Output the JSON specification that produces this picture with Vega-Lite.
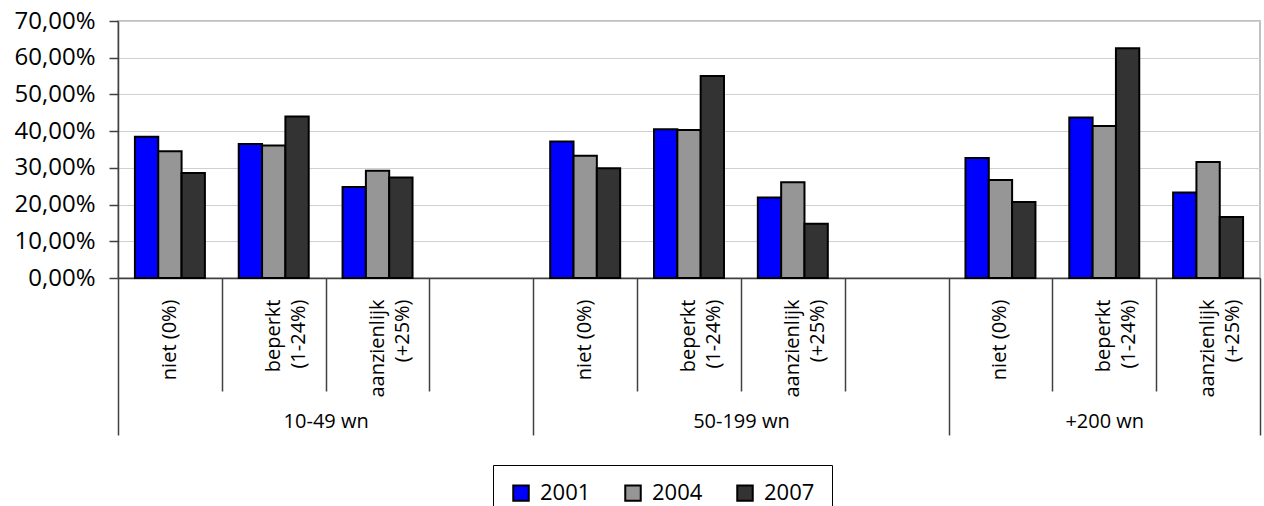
{
  "$schema": "https://vega.github.io/schema/vega-lite/v6.json",
  "width": 1142,
  "height": 257,
  "autosize": {"type": "none"},
  "padding": {"left": 118, "top": 21, "right": 4, "bottom": 228},
  "background": "white",
  "config": {
    "font": "Open Sans",
    "view": {"stroke": "#c0c0c0", "strokeWidth": 2},
    "axis": {"labelFont": "Open Sans", "labelColor": "#000"},
    "legend": {"labelFont": "Open Sans"}
  },
  "datasets": {
    "bars": [
      {"cat": "10-49 wn|niet (0%)", "jaar": "2001", "pct": 38.5},
      {"cat": "10-49 wn|niet (0%)", "jaar": "2004", "pct": 34.5},
      {"cat": "10-49 wn|niet (0%)", "jaar": "2007", "pct": 28.6},
      {"cat": "10-49 wn|beperkt|(1-24%)", "jaar": "2001", "pct": 36.5},
      {"cat": "10-49 wn|beperkt|(1-24%)", "jaar": "2004", "pct": 36.1},
      {"cat": "10-49 wn|beperkt|(1-24%)", "jaar": "2007", "pct": 44.0},
      {"cat": "10-49 wn|aanzienlijk|(+25%)", "jaar": "2001", "pct": 24.8},
      {"cat": "10-49 wn|aanzienlijk|(+25%)", "jaar": "2004", "pct": 29.2},
      {"cat": "10-49 wn|aanzienlijk|(+25%)", "jaar": "2007", "pct": 27.4},
      {"cat": "50-199 wn|niet (0%)", "jaar": "2001", "pct": 37.2},
      {"cat": "50-199 wn|niet (0%)", "jaar": "2004", "pct": 33.3},
      {"cat": "50-199 wn|niet (0%)", "jaar": "2007", "pct": 29.9},
      {"cat": "50-199 wn|beperkt|(1-24%)", "jaar": "2001", "pct": 40.5},
      {"cat": "50-199 wn|beperkt|(1-24%)", "jaar": "2004", "pct": 40.3},
      {"cat": "50-199 wn|beperkt|(1-24%)", "jaar": "2007", "pct": 55.0},
      {"cat": "50-199 wn|aanzienlijk|(+25%)", "jaar": "2001", "pct": 21.9},
      {"cat": "50-199 wn|aanzienlijk|(+25%)", "jaar": "2004", "pct": 26.1},
      {"cat": "50-199 wn|aanzienlijk|(+25%)", "jaar": "2007", "pct": 14.8},
      {"cat": "+200 wn|niet (0%)", "jaar": "2001", "pct": 32.7},
      {"cat": "+200 wn|niet (0%)", "jaar": "2004", "pct": 26.7},
      {"cat": "+200 wn|niet (0%)", "jaar": "2007", "pct": 20.7},
      {"cat": "+200 wn|beperkt|(1-24%)", "jaar": "2001", "pct": 43.7},
      {"cat": "+200 wn|beperkt|(1-24%)", "jaar": "2004", "pct": 41.4},
      {"cat": "+200 wn|beperkt|(1-24%)", "jaar": "2007", "pct": 62.6},
      {"cat": "+200 wn|aanzienlijk|(+25%)", "jaar": "2001", "pct": 23.3},
      {"cat": "+200 wn|aanzienlijk|(+25%)", "jaar": "2004", "pct": 31.6},
      {"cat": "+200 wn|aanzienlijk|(+25%)", "jaar": "2007", "pct": 16.6}
    ],
    "slots": [
      {"pos": 0}, {"pos": 1}, {"pos": 2}, {"pos": 3}, {"pos": 4}, {"pos": 5},
      {"pos": 6}, {"pos": 7}, {"pos": 8}, {"pos": 9}, {"pos": 10}, {"pos": 11}
    ]
  },
  "layer": [
    {
      "data": {"name": "bars"},
      "mark": {"type": "bar", "stroke": "#000", "strokeWidth": 2},
      "encoding": {
        "x": {
          "field": "cat",
          "type": "nominal",
          "sort": null,
          "scale": {
            "domain": [
              "10-49 wn|niet (0%)", "10-49 wn|beperkt|(1-24%)", "10-49 wn|aanzienlijk|(+25%)", "10-49 wn|",
              "50-199 wn|niet (0%)", "50-199 wn|beperkt|(1-24%)", "50-199 wn|aanzienlijk|(+25%)", "50-199 wn|",
              "+200 wn|niet (0%)", "+200 wn|beperkt|(1-24%)", "+200 wn|aanzienlijk|(+25%)"
            ],
            "paddingInner": 0.326,
            "paddingOuter": 0.163
          },
          "axis": {
            "orient": "bottom",
            "title": null,
            "ticks": false,
            "tickSize": 0,
            "domain": true,
            "domainColor": "#404040",
            "domainWidth": 1.5,
            "labelExpr": "slice(split(datum.value, '|'), 1)",
            "labelAngle": 270,
            "labelAlign": "right",
            "labelBaseline": "middle",
            "labelPadding": 21,
            "labelFontSize": 20,
            "labelLineHeight": 25,
            "labelOverlap": false,
            "labelColor": "#000"
          }
        },
        "xOffset": {"field": "jaar", "type": "nominal", "sort": ["2001", "2004", "2007"]},
        "y": {
          "field": "pct",
          "type": "quantitative",
          "stack": null,
          "scale": {"domain": [0, 70], "nice": false},
          "axis": {
            "title": null,
            "values": [0, 10, 20, 30, 40, 50, 60, 70],
            "labelExpr": "replace(format(datum.value, '.2f'), '.', ',') + '%'",
            "grid": true,
            "gridColor": "#d0d0d0",
            "gridWidth": 1,
            "domainColor": "#404040",
            "domainWidth": 1.5,
            "tickColor": "#404040",
            "tickWidth": 1.5,
            "tickSize": 9,
            "labelPadding": 14,
            "labelFontSize": 24,
            "labelColor": "#000"
          }
        },
        "color": {
          "field": "jaar",
          "type": "nominal",
          "scale": {"domain": ["2001", "2004", "2007"], "range": ["#0000ff", "#969696", "#333333"]},
          "legend": {
            "title": null,
            "orient": "none",
            "legendX": 375,
            "legendY": 444,
            "direction": "horizontal",
            "columns": 3,
            "symbolType": "square",
            "symbolSize": 240,
            "symbolStrokeColor": "#000",
            "symbolStrokeWidth": 2,
            "symbolOpacity": 1,
            "labelFontSize": 22,
            "labelOffset": 8,
            "labelColor": "#000",
            "columnPadding": 30,
            "padding": 17,
            "strokeColor": "#000",
            "fillColor": "#fff"
          }
        }
      }
    },
    {
      "data": {"name": "slots"},
      "mark": {"type": "rule", "opacity": 0},
      "encoding": {
        "x": {
          "field": "pos",
          "type": "quantitative",
          "scale": {"domain": [0, 11], "nice": false, "zero": false},
          "axis": {
            "orient": "bottom",
            "title": null,
            "values": [1, 2, 3, 5, 6, 7, 9, 10],
            "labels": false,
            "domain": false,
            "grid": false,
            "ticks": true,
            "tickSize": 113,
            "tickColor": "#404040",
            "tickWidth": 1.5
          }
        }
      }
    },
    {
      "data": {"name": "slots"},
      "mark": {"type": "rule", "opacity": 0},
      "encoding": {
        "x": {
          "field": "pos",
          "type": "quantitative",
          "scale": {"domain": [0, 11], "nice": false, "zero": false},
          "axis": {
            "orient": "bottom",
            "title": null,
            "values": [0, 4, 8, 11],
            "labels": false,
            "domain": false,
            "grid": false,
            "ticks": true,
            "tickSize": 157,
            "tickColor": "#404040",
            "tickWidth": 1.5
          }
        }
      }
    },
    {
      "data": {"name": "slots"},
      "mark": {"type": "rule", "opacity": 0},
      "encoding": {
        "x": {
          "field": "pos",
          "type": "quantitative",
          "scale": {"domain": [0, 11], "nice": false, "zero": false},
          "axis": {
            "orient": "bottom",
            "title": null,
            "values": [2, 6, 9.5],
            "labelExpr": "datum.value == 2 ? '10-49 wn' : datum.value == 6 ? '50-199 wn' : '+200 wn'",
            "domain": false,
            "grid": false,
            "ticks": false,
            "tickSize": 0,
            "labelPadding": 143,
            "labelBaseline": "middle",
            "labelAlign": "center",
            "labelFlush": false,
            "labelOverlap": false,
            "labelFontSize": 20,
            "labelColor": "#000"
          }
        }
      }
    }
  ],
  "resolve": {"scale": {"x": "independent"}, "axis": {"x": "independent"}}
}
